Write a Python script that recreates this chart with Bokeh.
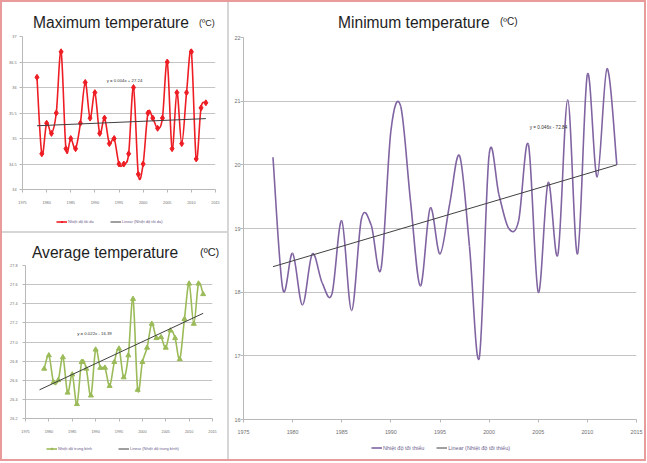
from bokeh.plotting import figure
from bokeh.models import Range1d, FixedTicker, Label, Legend, LegendItem, ColumnDataSource, Div
from bokeh.layouts import row, column
from bokeh.embed import file_html
from bokeh.resources import INLINE

# ---------------- data ----------------
years = list(range(1978, 2014))
years_avg = list(range(1979, 2014))

t_max = [36.2, 34.7, 35.3, 35.1, 35.5, 36.7, 34.8, 35.0, 34.8, 35.3,
         36.1, 35.4, 35.9, 35.1, 35.4, 34.9, 35.0, 34.5, 34.5, 34.7,
         36.0, 34.3, 34.5, 35.5, 35.4, 35.2, 35.4, 36.5, 34.8, 35.9,
         34.9, 35.9, 36.7, 34.6, 35.6, 35.7]

t_avg = [26.72, 26.86, 26.58, 26.60, 26.84, 26.47, 26.66, 26.35, 26.79, 26.72,
         26.44, 26.92, 26.73, 26.73, 26.54, 26.79, 26.93, 26.63, 26.86, 27.45,
         26.50, 26.79, 26.94, 27.19, 27.04, 27.05, 26.94, 27.12, 27.04, 26.82,
         27.24, 27.61, 27.19, 27.61, 27.50]

t_min = [20.12, 18.05, 18.61, 17.80, 18.60, 18.15, 17.97, 19.12, 17.71, 19.15,
         19.05, 18.37, 20.53, 20.92, 19.43, 18.10, 19.32, 18.60, 19.40, 20.14,
         18.72, 16.97, 20.16, 19.53, 19.00, 19.12, 20.32, 18.00, 19.72, 18.59,
         21.02, 18.60, 21.42, 19.81, 21.51, 20.00]

trend_years = [1978, 2013]
trend_max = [35.25, 35.39]
trend_avg = [26.50, 27.30]
trend_min = [18.40, 20.00]

eq_max = "y = 0.004x + 27.24"
eq_avg = "y = 0.022x - 16.39"
eq_min = "y = 0.046x - 72.84"

x_ticks = [1975, 1980, 1985, 1990, 1995, 2000, 2005, 2010, 2015]
max_ticks = [34, 34.5, 35, 35.5, 36, 36.5, 37]
max_tick_labels = ["34", "34.5", "35", "35.5", "36", "36.5", "37"]
avg_ticks = [26.2, 26.4, 26.6, 26.8, 27.0, 27.2, 27.4, 27.6, 27.8]
avg_tick_labels = ["26.2", "26.4", "26.6", "26.8", "27.0", "27.2", "27.4", "27.6", "27.8"]
min_ticks = [16, 17, 18, 19, 20, 21, 22]
min_tick_labels = ["16", "17", "18", "19", "20", "21", "22"]

title_max = "Maximum temperature"
title_avg = "Average temperature"
title_min = "Minimum temperature"
unit_text = "(ºC)"
leg_max = ["Nhiệt độ tối đa", "Linear (Nhiệt độ tối đa)"]
leg_avg = ["Nhiệt độ trung bình", "Linear (Nhiệt độ trung bình)"]
leg_min = ["Nhiệt độ tối thiểu", "Linear (Nhiệt độ tối thiểu)"]

RED = "#ee1d24"
GREEN = "#9bbb59"
PURPLE = "#8064a2"
TREND = "#404040"
FONT = "Liberation Sans"
BORDER_RED = "#e99a9a"
DIVIDER = "#d6d6d6"

SPECS = {}


def smooth(xs, ys):
    n = len(xs)
    d = {k: [] for k in ("x0", "y0", "x1", "y1", "cx0", "cy0", "cx1", "cy1")}
    for i in range(n - 1):
        pm = max(i - 1, 0)
        pp = min(i + 2, n - 1)
        d["x0"].append(xs[i]); d["y0"].append(ys[i])
        d["x1"].append(xs[i + 1]); d["y1"].append(ys[i + 1])
        d["cx0"].append(xs[i] + (xs[i + 1] - xs[pm]) / 6.0)
        d["cy0"].append(ys[i] + (ys[i + 1] - ys[pm]) / 6.0)
        d["cx1"].append(xs[i + 1] - (xs[pp] - xs[i]) / 6.0)
        d["cy1"].append(ys[i + 1] - (ys[pp] - ys[i]) / 6.0)
    return ColumnDataSource(d)


def make_fig(key, fw, fh, l, r, t, b, yr, yticks, ylabels, fsize, ystand, xstand):
    p = figure(frame_width=fw, frame_height=fh, x_range=Range1d(1975, 2015), y_range=Range1d(*yr),
               output_backend="svg", toolbar_location=None,
               min_border_left=l, min_border_right=r, min_border_top=t, min_border_bottom=b)
    SPECS[key] = dict(l=l, t=t, W=fw, H=fh, yr=yr)
    p.outline_line_color = None
    p.background_fill_color = "white"
    p.border_fill_color = "white"
    p.xgrid.visible = False
    yt = FixedTicker(ticks=yticks)
    p.yaxis.ticker = yt
    p.ygrid.ticker = yt
    p.ygrid.grid_line_color = "#c4c4c4"
    p.xaxis.ticker = FixedTicker(ticks=x_ticks)
    p.yaxis.major_label_overrides = {v: s for v, s in zip(yticks, ylabels)}
    for ax in (p.xaxis[0], p.yaxis[0]):
        ax.major_label_text_font = FONT
        ax.major_label_text_font_size = fsize
        ax.major_label_text_color = "#707070"
        ax.minor_tick_line_color = None
        ax.major_tick_in = 0
        ax.major_tick_out = 3
        ax.axis_line_color = "#b8b8b8"
        ax.major_tick_line_color = "#b8b8b8"
    p.yaxis.major_label_standoff = ystand
    p.xaxis.major_label_standoff = xstand
    return p


def to_data(key, lx, ly):
    s = SPECS[key]
    x = 1975 + (lx - s["l"]) / s["W"] * 40.0
    y0, y1 = s["yr"]
    y = y1 - (ly - s["t"]) / s["H"] * (y1 - y0)
    return x, y


def add_text(p, key, lx, ly, text, size, color="#333333"):
    x, y = to_data(key, lx, ly)
    p.add_layout(Label(x=x, y=y, text=text, text_font=FONT, text_font_size=size,
                       text_color=color, text_align="center", text_baseline="middle"))


def legend_fig(w, h, series, loc, spacing, fsize):
    """A strip below a chart that holds only its legend; the legend's
    renderers use the chart's data, which lies outside this strip's ranges."""
    q = figure(width=w, height=h, x_range=Range1d(0, 1), y_range=Range1d(0, 1),
               x_axis_location=None, y_axis_location=None,
               output_backend="svg", toolbar_location=None,
               min_border_left=0, min_border_right=0, min_border_top=0, min_border_bottom=0)
    q.outline_line_color = None
    q.grid.visible = False
    q.background_fill_color = "white"
    q.border_fill_color = "white"
    items = []
    for label, xs, ys, color, marker in series:
        rs = [q.line(xs, ys, line_color=color, line_width=1.6 if marker is not None else 1)]
        if marker:
            rs.append(q.scatter(xs, ys, marker=marker, size=5, color=color))
        items.append(LegendItem(label=label, renderers=rs))
    lg = Legend(items=items, orientation="horizontal", location=loc,
                label_text_font=FONT, label_text_font_size=fsize, label_text_color="#6b5d8c",
                glyph_width=11, glyph_height=5, label_height=5, label_width=5,
                label_standoff=1, spacing=spacing, padding=0, margin=0,
                border_line_color=None, background_fill_alpha=0)
    q.add_layout(lg)
    return q


def title_div(w, h, title, tleft, ttop, unit, uleft, utop, usize):
    html = (
        f'<div style="position:relative;width:{w}px;height:{h}px;font-family:\'{FONT}\';color:#1e1e1e;">'
        f'<span style="position:absolute;left:{tleft}px;top:{ttop}px;font-size:15.6px;line-height:15px;white-space:nowrap;">{title}</span>'
        f'<span style="position:absolute;left:{uleft}px;top:{utop}px;font-size:{usize}px;line-height:{usize}px;white-space:nowrap;">{unit}</span>'
        '</div>'
    )
    return Div(text=html, width=w, height=h, margin=0, styles={"background-color": "white"})


# ---------------- Maximum ----------------
p_max = make_fig("max", 193, 153, 20, 12, 5, 24, (34, 37), max_ticks, max_tick_labels, "3.8px", 3, 8)
p_max.bezier(x0="x0", y0="y0", x1="x1", y1="y1", cx0="cx0", cy0="cy0", cx1="cx1", cy1="cy1",
             source=smooth(years, t_max), line_color=RED, line_width=1.6)
p_max.scatter(years, t_max, marker="diamond", size=6, color=RED)
p_max.line(trend_years, trend_max, line_color=TREND, line_width=1)
add_text(p_max, "max", 122, 49, eq_max, "4.3px")
l_max = legend_fig(225, 18, [(leg_max[0], years, t_max, RED, "diamond"),
                             (leg_max[1], trend_years, trend_max, TREND, None)], (34, 7.5), 16, "4px")
d_max = title_div(225, 29, title_max, 31, 13, unit_text, 197, 17, 9)

# ---------------- Average ----------------
p_avg = make_fig("avg", 187, 153, 23, 15, 5, 24, (26.2, 27.8), avg_ticks, avg_tick_labels, "3.8px", 5, 8)
p_avg.bezier(x0="x0", y0="y0", x1="x1", y1="y1", cx0="cx0", cy0="cy0", cx1="cx1", cy1="cy1",
             source=smooth(years_avg, t_avg), line_color=GREEN, line_width=1.6)
p_avg.scatter(years_avg, t_avg, marker="triangle", size=5, color=GREEN)
p_avg.line(trend_years, trend_avg, line_color=TREND, line_width=1)
add_text(p_avg, "avg", 92, 73, eq_avg, "4.3px")
l_avg = legend_fig(225, 17, [(leg_avg[0], years_avg, t_avg, GREEN, "triangle"),
                             (leg_avg[1], trend_years, trend_avg, TREND, None)], (21, 8.5), 26, "4px")
d_avg = title_div(225, 27, title_avg, 30, 12, unit_text, 198, 14, 11)

# ---------------- Minimum ----------------
p_min = make_fig("min", 393, 382, 14, 8, 5, 24, (16, 22), min_ticks, min_tick_labels, "5.4px", 0, 7)
p_min.bezier(x0="x0", y0="y0", x1="x1", y1="y1", cx0="cx0", cy0="cy0", cx1="cx1", cy1="cy1",
             source=smooth(years, t_min), line_color=PURPLE, line_width=1.6)
p_min.line(trend_years, trend_min, line_color=TREND, line_width=1)
add_text(p_min, "min", 319, 95, eq_min, "4.7px")
l_min = legend_fig(415, 16, [(leg_min[0], years, t_min, PURPLE, ""),
                             (leg_min[1], trend_years, trend_min, TREND, None)], (128, 8.5), 12, "5.5px")
d_min = title_div(415, 30, title_min, 109, 13, unit_text, 271, 15, 10)

white = {"background-color": "white"}
top_panel = column(d_max, p_max, l_max, styles=white)
bot_panel = column(d_avg, p_avg, l_avg, styles=white)
left_col = column(top_panel, bot_panel, spacing=2, styles={"background-color": DIVIDER})
right_panel = column(d_min, p_min, l_min, styles=white)
inner = row(left_col, right_panel, spacing=2, margin=2, styles={"background-color": DIVIDER})
layout = column(inner, styles={"background-color": BORDER_RED})

open("out.html", "w").write(file_html(layout, INLINE))
